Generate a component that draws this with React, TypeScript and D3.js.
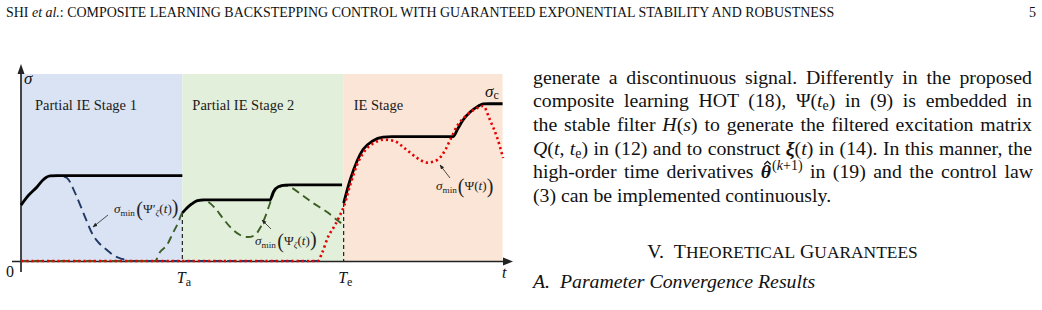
import React, { useLayoutEffect, useRef } from "react";
import * as d3 from "d3";

type P = [number, number];

// ---- chart data (time units: Ta = 10, Te = 20) ----
const stageLabels = ["Partial IE Stage 1", "Partial IE Stage 2", "IE Stage"];
const stageBounds = [0, 10, 20, 29.85];
const tickTimes = [0, 10, 20];
const tickMain = ["0", "T", "T"];
const tickSub = ["", "a", "e"];

const sigmaC1: P[] = [[0, 29.9], [0.37, 34.2], [0.99, 39.6], [1.36, 43.3], [1.8, 45.5], [2.3, 45.7], [10, 45.7]];
const sigmaC2: P[] = [[10, 25.7], [10.27, 28.2], [10.58, 30.5], [10.89, 32.2], [11.3, 32.7], [15.44, 32.7], [15.64, 37], [15.95, 39.7], [16.37, 40.6], [16.8, 40.7], [19.9, 40.7]];
const sigmaC3: P[] = [[20, 31], [20.4, 43.3], [20.83, 53.5], [21.2, 59.6], [21.8, 64.2], [22.44, 66.2], [23, 66.5], [26.78, 66.5], [27.09, 71], [27.4, 75.4], [27.84, 79.7], [28.27, 82.4], [28.64, 84], [29.0, 84.1], [29.85, 84.1]];
const psiMin: P[] = [[0, 0], [18.4, 0], [18.66, 4.3], [19.03, 12.8], [19.47, 19.3], [19.78, 24.6], [20.02, 29.4], [20.4, 40.5], [20.83, 51.5], [21.3, 58.8], [21.9, 63.2], [22.5, 64.9], [23.1, 64.3], [23.8, 60.2], [24.55, 55.1], [25.17, 52.6], [25.8, 54], [26.3, 59.4], [26.6, 64.7], [27.0, 71.7], [27.65, 78.1], [28.27, 81.8], [28.64, 82.9], [29.07, 75.4], [29.5, 66.3], [29.88, 55.1]];
const psiZetaMin: P[] = [[0, 0], [8.3, 0], [8.62, 4.8], [9.05, 8.6], [9.42, 15], [9.73, 20.3], [9.98, 25.7], [10.27, 28.2], [10.58, 30.5], [10.89, 32.2], [11.3, 32.5], [11.6, 31.6], [12.03, 28.3], [12.46, 23.5], [12.96, 18.2], [13.58, 13.9], [14.07, 12.8], [14.5, 13.9], [14.82, 17.6], [15.13, 23.5], [15.44, 31], [15.7, 37], [16.0, 39.4], [16.35, 40.3], [16.7, 39.5], [17.42, 35.3], [18.1, 31], [18.97, 26.2], [19.59, 21.9], [20.0, 19.3]];
const psiPrimeZetaMin: P[] = [[1.8, 45.5], [2.4, 45.6], [2.85, 44.4], [3.35, 36.4], [3.97, 23.5], [4.46, 13.9], [4.77, 10.2], [5.33, 5.9], [5.7, 3.2], [6.26, 1.1], [7.0, 0], [18.4, 0]];

// ---- page text ----
const headerRest = ": COMPOSITE LEARNING BACKSTEPPING CONTROL WITH GUARANTEED EXPONENTIAL STABILITY AND ROBUSTNESS";
const pageNumber = "5";

const serif = "'Liberation Serif', 'Times New Roman', Times, serif";

export default function App() {
  const ref = useRef<SVGSVGElement>(null);
  const hatRef = useRef<SVGPathElement>(null);
  const headRef = useRef<SVGTextElement>(null);

  useLayoutEffect(() => {
    const layout = () => {
      const svg = ref.current;
      if (!svg) return;
      const h = headRef.current;
      if (h) {
        h.setAttribute("font-size", "14");
        const w = h.getComputedTextLength();
        h.setAttribute("font-size", String((14 * 829) / w));
      }
      svg.querySelectorAll<SVGTextElement>("text[data-w]").forEach((n) => {
        n.style.wordSpacing = "0px";
        const w = n.getComputedTextLength();
        const target = Number(n.getAttribute("data-w"));
        const spaces = (n.textContent || "").split(" ").length - 1;
        if (spaces > 0) n.style.wordSpacing = `${(target - w) / spaces}px`;
      });
      const th = svg.querySelector<SVGTSpanElement>("tspan[data-hat]");
      if (th && hatRef.current) {
        const b = (th as any).getBBox();
        const cx = b.x + b.width / 2 + 1.5;
        const top = b.y + 1;
        hatRef.current.setAttribute("d", `M${cx - 3.2},${top + 3.2} L${cx},${top} L${cx + 3.2},${top + 3.2}`);
      }
    };
    layout();
    const f = (document as any).fonts;
    if (f && f.ready) f.ready.then(layout);
  }, []);

  const x = d3.scaleLinear().domain([0, 30]).range([21, 505]);
  const y = d3.scaleLinear().domain([0, 100]).range([261, 74]);
  const line = d3
    .line<P>()
    .x((d) => x(d[0]))
    .y((d) => y(d[1]))
    .curve(d3.curveMonotoneX);

  const fills = ["#dae3f3", "#e2efda", "#fbe5d6"];
  const labelOffsets = [14, 10, 10];
  const x0 = x(0);
  const y0 = y(0);

  const lh = 23.7;
  const ty = (i: number) => 83.5 + lh * i;
  const fs = 19.8;
  const colL = 533;
  const colW = 499;
  const af = 13.2; // annotation font
  const as = 9.2; // annotation subscript
  const ap = 20; // annotation parens

  return (
    <div style={{ position: "absolute", left: 0, top: 0 }}>
      <svg ref={ref} width={1042} height={310} style={{ display: "block", background: "#fff" }} fontFamily={serif}>
        <defs>
          <marker id="ah" viewBox="0 0 10 10" refX="9" refY="5" markerWidth="6" markerHeight="6" orient="auto">
            <path d="M0,1 L10,5 L0,9 z" fill="#222" />
          </marker>
        </defs>

        {/* header */}
        <text ref={headRef} x={6} y={17} fontSize={14} fill="#111">
          SHI <tspan fontStyle="italic">et al.</tspan>
          {headerRest}
        </text>
        <text x={1036} y={17} fontSize={14} textAnchor="end" fill="#111">
          {pageNumber}
        </text>

        {/* stage backgrounds */}
        {stageLabels.map((s, i) => (
          <rect key={"bg" + i} x={x(stageBounds[i])} y={y(100)} width={x(stageBounds[i + 1]) - x(stageBounds[i])} height={y0 - y(100)} fill={fills[i]} />
        ))}
        {stageLabels.map((s, i) => (
          <text key={"sl" + i} x={x(stageBounds[i]) + labelOffsets[i]} y={110} fontSize={14.5} fill="#1a1a1a">
            {s}
          </text>
        ))}

        {/* vertical dashed markers */}
        <line x1={x(10)} x2={x(10)} y1={y(sigmaC2[0][1])} y2={y0} stroke="#111" strokeWidth={1.1} strokeDasharray="4 3" />
        <line x1={x(20)} x2={x(20)} y1={y(sigmaC3[0][1])} y2={y0} stroke="#111" strokeWidth={1.1} strokeDasharray="4 3" />

        {/* axes */}
        <line x1={12} x2={506} y1={y0 + 0.5} y2={y0 + 0.5} stroke="#222" strokeWidth={1.6} />
        <path d={`M${513},${y0 + 0.5} L${503},${y0 - 3.5} L${503},${y0 + 4.5} Z`} fill="#222" />
        <line x1={x0} x2={x0} y1={272} y2={72} stroke="#333" strokeWidth={1.8} />
        <path d={`M${x0},${64} L${x0 - 3.5},${74} L${x0 + 3.5},${74} Z`} fill="#222" />

        {/* curves */}
        <path d={line(psiPrimeZetaMin) || ""} fill="none" stroke="#203864" strokeWidth={1.9} strokeDasharray="9 5" />
        <path d={line(psiZetaMin) || ""} fill="none" stroke="#3b5e25" strokeWidth={1.9} strokeDasharray="8 5" />
        {[sigmaC1, sigmaC2, sigmaC3].map((s, i) => (
          <path key={"c" + i} d={line(s) || ""} fill="none" stroke="#000" strokeWidth={2.8} />
        ))}
        <path d={line(psiMin) || ""} fill="none" stroke="#e60000" strokeWidth={2.6} strokeDasharray="2.2 3" />

        {/* axis labels */}
        <text x={x0 + 3} y={84} fontSize={17} fontStyle="italic" fill="#111">σ</text>
        <text x={485} y={97} fontSize={17} fontStyle="italic" fill="#111">
          σ<tspan fontSize={12} fontStyle="normal" dy={2}>c</tspan>
        </text>
        {tickTimes.map((t, i) =>
          i === 0 ? (
            <text key={"tk" + i} x={x(t) - 7} y={277} fontSize={16} textAnchor="end" fill="#111">
              {tickMain[i]}
            </text>
          ) : (
            <text key={"tk" + i} x={x(t) - 5.5} y={283} fontSize={16} fontStyle="italic" fill="#111">
              {tickMain[i]}
              <tspan fontStyle="normal" fontSize={12} dy={2.5}>{tickSub[i]}</tspan>
            </text>
          )
        )}
        <text x={502} y={278} fontSize={16} fontStyle="italic" fill="#111">t</text>

        {/* annotations */}
        <text x={114} y={213} fontSize={af} fill="#222">
          <tspan fontStyle="italic">σ</tspan>
          <tspan fontSize={as} dy={2.5}>min</tspan>
          <tspan fontSize={ap} dy={0} dx={1.5}>(</tspan>
          <tspan dy={-2.5}>Ψ′</tspan>
          <tspan fontSize={as} fontStyle="italic" dy={2.5}>ζ</tspan>
          <tspan dy={-2.5}>(</tspan>
          <tspan fontStyle="italic">t</tspan>
          <tspan>)</tspan>
          <tspan fontSize={ap} dy={1}>)</tspan>
        </text>
        <line x1={108} y1={215} x2={93} y2={227} stroke="#222" strokeWidth={0.8} markerEnd="url(#ah)" />

        <text x={255} y={245} fontSize={af} fill="#222">
          <tspan fontStyle="italic">σ</tspan>
          <tspan fontSize={as} dy={2.5}>min</tspan>
          <tspan fontSize={ap} dy={0} dx={1.5}>(</tspan>
          <tspan dy={-2.5}>Ψ</tspan>
          <tspan fontSize={as} fontStyle="italic" dy={2.5}>ζ</tspan>
          <tspan dy={-2.5}>(</tspan>
          <tspan fontStyle="italic">t</tspan>
          <tspan>)</tspan>
          <tspan fontSize={ap} dy={1}>)</tspan>
        </text>
        <line x1={271} y1={229} x2={262} y2={220} stroke="#222" strokeWidth={0.8} markerEnd="url(#ah)" />

        <text x={436} y={190} fontSize={af} fill="#222">
          <tspan fontStyle="italic">σ</tspan>
          <tspan fontSize={as} dy={2.5}>min</tspan>
          <tspan fontSize={ap} dy={0} dx={1}>(</tspan>
          <tspan dy={-2.5}>Ψ(</tspan>
          <tspan fontStyle="italic">t</tspan>
          <tspan>)</tspan>
          <tspan fontSize={ap} dy={2.5}>)</tspan>
        </text>
        <line x1={450} y1={178} x2={440} y2={165} stroke="#222" strokeWidth={0.8} markerEnd="url(#ah)" />

        {/* right column text */}
        <g fontSize={fs} fill="#111">
          <text x={colL} y={ty(0)} data-w={colW}>generate a discontinuous signal. Differently in the proposed</text>
          <text x={colL} y={ty(1)} data-w={colW}>
            composite learning HOT (18), Ψ(<tspan fontStyle="italic">t</tspan>
            <tspan fontSize={14} dy={3}>e</tspan>
            <tspan dy={-3}>) in (9) is embedded in</tspan>
          </text>
          <text x={colL} y={ty(2)} data-w={colW}>
            the stable filter <tspan fontStyle="italic">H</tspan>(<tspan fontStyle="italic">s</tspan>) to generate the filtered excitation matrix
          </text>
          <text x={colL} y={ty(3)} data-w={colW}>
            <tspan fontStyle="italic">Q</tspan>(<tspan fontStyle="italic">t</tspan>, <tspan fontStyle="italic">t</tspan>
            <tspan fontSize={14} dy={3}>e</tspan>
            <tspan dy={-3}>) in (12) and to construct </tspan>
            <tspan fontStyle="italic" fontWeight="bold">ξ</tspan>(<tspan fontStyle="italic">t</tspan>) in (14). In this manner, the
          </text>
          <text x={colL} y={ty(4)} data-w={colW}>
            high-order time derivatives <tspan data-hat="1" fontWeight="bold" fontStyle="italic">θ</tspan>
            <tspan fontSize={14} dy={-8} dx={1}>(</tspan>
            <tspan fontSize={14} fontStyle="italic">k</tspan>
            <tspan fontSize={14}>+1)</tspan>
            <tspan dy={8}> in (19) and the control law</tspan>
          </text>
          <text x={colL} y={ty(5)}>(3) can be implemented continuously.</text>

          <text x={colL + colW / 2} y={258} textAnchor="middle">
            V.{"\u2002"}T<tspan fontSize={17.4}>HEORETICAL</tspan> G<tspan fontSize={17.4}>UARANTEES</tspan>
          </text>
          <text x={colL} y={288} fontStyle="italic">
            A.{"\u2002"}Parameter Convergence Results
          </text>
        </g>
        <path ref={hatRef} d="" fill="none" stroke="#111" strokeWidth={1.3} />
      </svg>
    </div>
  );
}
